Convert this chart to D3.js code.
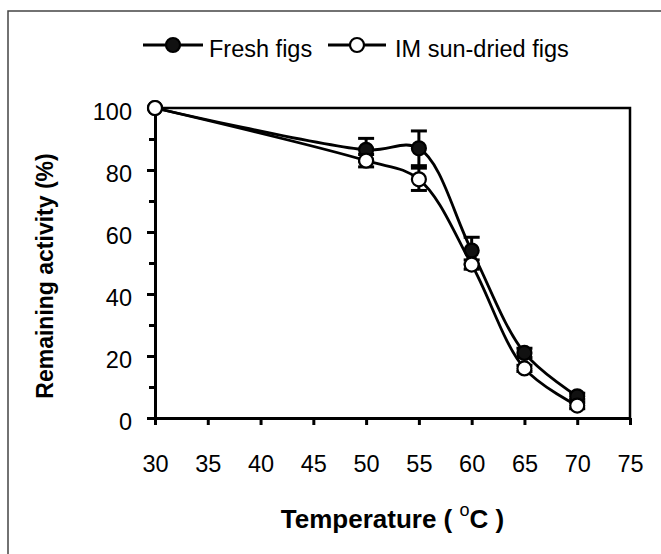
<!DOCTYPE html>
<html>
<head>
<meta charset="utf-8">
<script src="https://cdn.jsdelivr.net/npm/d3@7"></script>
<style>
  body { margin: 0; background: #fff; }
  svg { display: block; font-family: "Liberation Sans", Arial, sans-serif; }
  text { white-space: pre; }
</style>
</head>
<body>
<svg id="chart" width="661" height="554"></svg>
<script>
// data
const temps = [30, 50, 55, 60, 65, 70];
const fresh = [100, 86.5, 87, 54, 21, 7];
const freshErr = [0, 3.7, 5.6, 4.3, 1.5, 1];
const dried = [100, 83, 77, 49.5, 16, 4];
const driedErr = [0, 2, 3.6, 1.5, 1, 1];
const xTicks = [30, 35, 40, 45, 50, 55, 60, 65, 70, 75];
const yTicks = [0, 20, 40, 60, 80, 100];
const yMinor = [10, 30, 50, 70, 90];

const svg = d3.select("#chart");

// outer frame (only left and top edges visible)
svg.append("path")
  .attr("d", "M8,554 L8,11 L661,11")
  .attr("fill", "none")
  .attr("stroke", "#444")
  .attr("stroke-width", 1.5);

const pLeft = 155, pRight = 630, pTop = 108, pBottom = 418;
const x = d3.scaleLinear().domain([30, 75]).range([pLeft, pRight]);
const y = d3.scaleLinear().domain([0, 100]).range([pBottom, pTop]);

// box top / right
svg.append("path")
  .attr("d", `M${pLeft},${pTop} L${pRight},${pTop} L${pRight},${pBottom}`)
  .attr("fill", "none")
  .attr("stroke", "#000")
  .attr("stroke-width", 2.5);

// x axis
const gx = svg.append("g")
  .attr("transform", `translate(0,${pBottom})`)
  .call(d3.axisBottom(x).tickValues(xTicks).tickSize(7).tickSizeOuter(0).tickPadding(30));
gx.selectAll("text").attr("font-size", 23.5).attr("font-family", "Liberation Sans, Arial").attr("fill", "#000");

// y axis minor ticks
svg.append("g")
  .attr("transform", `translate(${pLeft},0)`)
  .call(d3.axisLeft(y).tickValues(yMinor).tickSize(6).tickSizeOuter(0).tickFormat(""))
  .select(".domain").remove();

// y axis
const gy = svg.append("g")
  .attr("transform", `translate(${pLeft},0)`)
  .call(d3.axisLeft(y).tickValues(yTicks).tickSize(8).tickSizeOuter(0).tickPadding(15));
gy.selectAll("text").attr("font-size", 23.5).attr("font-family", "Liberation Sans, Arial")
  .attr("dy", "0.47em").attr("fill", "#000");

svg.selectAll(".domain").attr("stroke-width", 3).attr("stroke", "#000");
svg.selectAll(".tick line").attr("stroke-width", 3).attr("stroke", "#000");

// axis titles
svg.append("text")
  .attr("transform", "translate(53,276) rotate(-90)")
  .attr("text-anchor", "middle")
  .attr("font-size", 23)
  .attr("font-weight", "bold")
  .text("Remaining activity (%)");

const xt = svg.append("text")
  .attr("x", (pLeft + pRight) / 2)
  .attr("y", 528)
  .attr("text-anchor", "middle")
  .attr("font-size", 26)
  .attr("font-weight", "bold");
xt.append("tspan").text("Temperature ( ");
xt.append("tspan").attr("font-size", 18).attr("font-weight", "normal").attr("dy", -12).text("o");
xt.append("tspan").attr("dy", 12).text("C )");

// series
const series = [
  { name: "Fresh figs", vals: fresh, err: freshErr, fill: "#111" },
  { name: "IM sun-dried figs", vals: dried, err: driedErr, fill: "#fff" }
];

const line = d3.line()
  .x(d => x(d[0]))
  .y(d => y(d[1]))
  .curve(d3.curveCatmullRom.alpha(0.5));

series.forEach(s => {
  const pts = temps.map((t, i) => [t, s.vals[i], s.err[i]]);
  const g = svg.append("g");
  g.append("path")
    .attr("d", line(pts))
    .attr("fill", "none")
    .attr("stroke", "#000")
    .attr("stroke-width", 2.8);
  const eb = g.selectAll(".err").data(pts.filter(d => d[2] > 0)).enter().append("g");
  eb.append("line")
    .attr("x1", d => x(d[0])).attr("x2", d => x(d[0]))
    .attr("y1", d => y(d[1] - d[2])).attr("y2", d => y(d[1] + d[2]));
  eb.append("line")
    .attr("x1", d => x(d[0]) - 8).attr("x2", d => x(d[0]) + 8)
    .attr("y1", d => y(d[1] + d[2])).attr("y2", d => y(d[1] + d[2]));
  eb.append("line")
    .attr("x1", d => x(d[0]) - 8).attr("x2", d => x(d[0]) + 8)
    .attr("y1", d => y(d[1] - d[2])).attr("y2", d => y(d[1] - d[2]));
  eb.selectAll("line").attr("stroke", "#000").attr("stroke-width", 3);
  g.selectAll("circle").data(pts).enter().append("circle")
    .attr("cx", d => x(d[0]))
    .attr("cy", d => y(d[1]))
    .attr("r", 7)
    .attr("fill", s.fill)
    .attr("stroke", "#000")
    .attr("stroke-width", 2.2);
});

// legend
const legendPos = [{ x0: 143, x1: 203, cx: 173, tx: 209 }, { x0: 328, x1: 386, cx: 357, tx: 395 }];
series.forEach((s, i) => {
  const p = legendPos[i];
  const lg = svg.append("g");
  lg.append("line")
    .attr("x1", p.x0).attr("x2", p.x1).attr("y1", 45).attr("y2", 45)
    .attr("stroke", "#000").attr("stroke-width", 2.8);
  lg.append("circle")
    .attr("cx", p.cx).attr("cy", 45).attr("r", 7)
    .attr("fill", s.fill).attr("stroke", "#000").attr("stroke-width", 2.2);
  lg.append("text")
    .attr("x", p.tx).attr("y", 57)
    .attr("font-size", 23.5)
    .text(s.name);
});
</script>
</body>
</html>
